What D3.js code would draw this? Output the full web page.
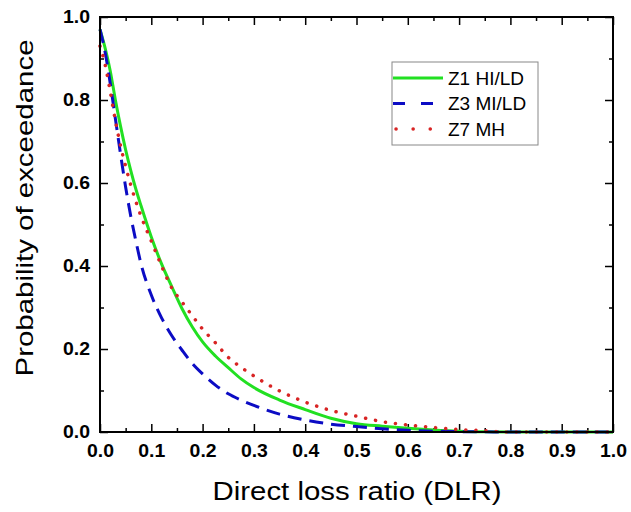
<!DOCTYPE html>
<html>
<head>
<meta charset="utf-8">
<script src="https://cdn.jsdelivr.net/npm/d3@7"></script>
<style>
  body { margin: 0; background: #fff; }
  svg { display: block; font-family: Arial, "Liberation Sans", sans-serif; }
  .tick-lbl text { font-weight: bold; font-size: 17.5px; fill: #000; }
  .domain { display: none; }
  .tick line { stroke: #000; stroke-width: 1.5; }
</style>
</head>
<body>
<div id="chart"></div>
<script>
// direct loss ratio grid
const dlr = [0, 0.01, 0.02, 0.03, 0.04, 0.05, 0.06, 0.07, 0.08, 0.1, 0.12, 0.14, 0.16, 0.18, 0.2,
  0.225, 0.25, 0.275, 0.3, 0.35, 0.4, 0.45, 0.5, 0.55, 0.6, 0.65, 0.7, 0.75, 0.8, 0.9, 1.0];

const z1 = [0.97, 0.925, 0.87, 0.80, 0.737, 0.68, 0.63, 0.585, 0.545, 0.47, 0.405, 0.35, 0.297, 0.253, 0.217,
  0.183, 0.155, 0.128, 0.107, 0.077, 0.054, 0.033, 0.02, 0.014, 0.009, 0.005, 0.002, 0.0005, 0, 0, 0];

const z3 = [0.97, 0.915, 0.84, 0.755, 0.67, 0.59, 0.52, 0.46, 0.405, 0.33, 0.275, 0.232, 0.197, 0.165, 0.14,
  0.113, 0.092, 0.077, 0.064, 0.043, 0.029, 0.019, 0.013, 0.008, 0.004, 0.002, 0.001, 0.0005, 0, 0, 0];

const z7 = [0.93, 0.885, 0.82, 0.75, 0.69, 0.64, 0.595, 0.555, 0.52, 0.46, 0.40, 0.347, 0.313, 0.28, 0.248,
  0.215, 0.18, 0.156, 0.135, 0.099, 0.072, 0.052, 0.038, 0.025, 0.017, 0.011, 0.006, 0.003, 0, 0, 0];

const seriesNames = ["Z1 HI/LD", "Z3 MI/LD", "Z7 MH"];
const xTicks = [0, 0.1, 0.2, 0.3, 0.4, 0.5, 0.6, 0.7, 0.8, 0.9, 1.0];
const yTicks = [0, 0.2, 0.4, 0.6, 0.8, 1.0];

const W = 631, H = 512;
const mLeft = 100, mRight = 613, mTop = 17, mBottom = 432;

const svg = d3.select("#chart").append("svg")
  .attr("width", W).attr("height", H);

const x = d3.scaleLinear().domain([0, 1]).range([mLeft, mRight]);
const y = d3.scaleLinear().domain([0, 1]).range([mBottom, mTop]);

const xMinor = d3.range(0.05, 1, 0.1);
const yMinor = d3.range(0.1, 1, 0.2);

// ticks (inward, on all four sides)
svg.append("g").attr("class", "tick-lbl")
  .attr("transform", `translate(0,${mBottom})`)
  .call(d3.axisBottom(x).tickValues(xTicks).tickFormat(d3.format(".1f")).tickSizeInner(-8).tickSizeOuter(0).tickPadding(12.5));
svg.append("g").attr("transform", `translate(0,${mBottom})`)
  .call(d3.axisBottom(x).tickValues(xMinor).tickFormat("").tickSizeInner(-4).tickSizeOuter(0));
svg.append("g").attr("transform", `translate(0,${mTop})`)
  .call(d3.axisTop(x).tickValues(xTicks).tickFormat("").tickSizeInner(-8).tickSizeOuter(0));
svg.append("g").attr("transform", `translate(0,${mTop})`)
  .call(d3.axisTop(x).tickValues(xMinor).tickFormat("").tickSizeInner(-4).tickSizeOuter(0));

svg.append("g").attr("class", "tick-lbl")
  .attr("transform", `translate(${mLeft},0)`)
  .call(d3.axisLeft(y).tickValues(yTicks).tickFormat(d3.format(".1f")).tickSizeInner(-8).tickSizeOuter(0).tickPadding(10));
svg.append("g").attr("transform", `translate(${mLeft},0)`)
  .call(d3.axisLeft(y).tickValues(yMinor).tickFormat("").tickSizeInner(-4).tickSizeOuter(0));
svg.append("g").attr("transform", `translate(${mRight},0)`)
  .call(d3.axisRight(y).tickValues(yTicks).tickFormat("").tickSizeInner(-8).tickSizeOuter(0));
svg.append("g").attr("transform", `translate(${mRight},0)`)
  .call(d3.axisRight(y).tickValues(yMinor).tickFormat("").tickSizeInner(-4).tickSizeOuter(0));

// the source picture is a little stretched sideways
svg.selectAll(".tick-lbl text")
  .attr("textLength", 27)
  .attr("lengthAdjust", "spacingAndGlyphs");

// curves
const line = d3.line().x(d => x(d[0])).y(d => y(d[1])).curve(d3.curveMonotoneX);
const styles = [
  { data: z1, color: "#22e022", width: 3, dash: null, cap: "butt" },
  { data: z3, color: "#0c0cc4", width: 3, dash: "14,8", cap: "butt" },
  { data: z7, color: "#d82424", width: 3.5, dash: "0.1,10", cap: "round" }
];

styles.forEach(s => {
  svg.append("path")
    .datum(dlr.map((v, i) => [v, s.data[i]]))
    .attr("d", line)
    .attr("fill", "none")
    .attr("stroke", s.color)
    .attr("stroke-width", s.width)
    .attr("stroke-dasharray", s.dash)
    .attr("stroke-linecap", s.cap);
});

// frame
svg.append("rect")
  .attr("x", mLeft).attr("y", mTop)
  .attr("width", mRight - mLeft).attr("height", mBottom - mTop)
  .attr("fill", "none").attr("stroke", "#000").attr("stroke-width", 2);

// legend
const lg = svg.append("g");
lg.append("rect")
  .attr("x", 392).attr("y", 62).attr("width", 146).attr("height", 83)
  .attr("fill", "#fff").attr("stroke", "#888").attr("stroke-width", 1);
const legendDash = [null, "12,16", "0.1,17"];
seriesNames.forEach((name, i) => {
  const yy = 78 + i * 25.5;
  lg.append("line")
    .attr("x1", i === 2 ? 396 : 393).attr("x2", 443)
    .attr("y1", yy).attr("y2", yy)
    .attr("stroke", styles[i].color)
    .attr("stroke-width", styles[i].width)
    .attr("stroke-dasharray", legendDash[i])
    .attr("stroke-linecap", styles[i].cap);
  lg.append("text")
    .attr("x", 448).attr("y", yy + 6.5)
    .attr("font-size", 19)
    .text(name);
});

// axis titles
svg.append("text")
  .attr("x", 357).attr("y", 500)
  .attr("text-anchor", "middle")
  .attr("font-size", 25)
  .attr("textLength", 289)
  .attr("lengthAdjust", "spacingAndGlyphs")
  .text("Direct loss ratio (DLR)");

svg.append("text")
  .attr("transform", "translate(33,208) rotate(-90)")
  .attr("text-anchor", "middle")
  .attr("font-size", 24)
  .attr("textLength", 337)
  .attr("lengthAdjust", "spacingAndGlyphs")
  .text("Probability of exceedance");
</script>
</body>
</html>
